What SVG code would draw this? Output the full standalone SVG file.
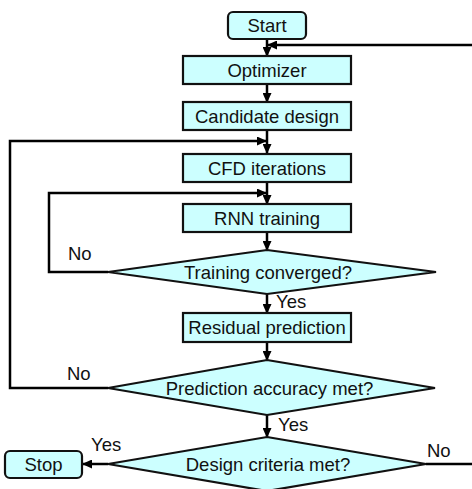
<svg xmlns="http://www.w3.org/2000/svg" width="472" height="489" viewBox="0 0 472 489">
<style>
.box{fill:#ccffff;stroke:#111;stroke-width:2.2}
.t{font-family:"Liberation Sans",Arial,sans-serif;font-size:18.5px;fill:#111;text-anchor:middle}
.lbl{font-family:"Liberation Sans",Arial,sans-serif;font-size:18.5px;fill:#111}
.c{fill:none;stroke:#000;stroke-width:2.5}
.ca{fill:none;stroke:#000;stroke-width:2.5;marker-end:url(#ah)}
</style>
<defs>
<marker id="ah" markerUnits="userSpaceOnUse" markerWidth="10" markerHeight="9" refX="9" refY="4.5" orient="auto">
<path d="M0,0 L10,4.5 L0,9 z" fill="#000"/>
</marker>
</defs>
<rect width="472" height="489" fill="#fff"/>
<g id="connectors">
<line class="ca" x1="267" y1="39" x2="267" y2="56"/>
<path class="ca" d="M475,45 L268,45"/>
<line class="ca" x1="267" y1="84" x2="267" y2="102"/>
<line class="ca" x1="267" y1="130" x2="267" y2="153"/>
<path class="ca" d="M108,388 L10,388 L10,141 L266,141"/>
<line class="ca" x1="267" y1="182" x2="267" y2="204"/>
<path class="ca" d="M108,272 L49,272 L49,193 L266,193"/>
<line class="ca" x1="267" y1="232" x2="267" y2="250"/>
<line class="ca" x1="267" y1="294" x2="267" y2="313"/>
<line class="ca" x1="267" y1="342" x2="267" y2="360"/>
<line class="ca" x1="267" y1="415" x2="267" y2="437"/>
<line class="ca" x1="108" y1="464" x2="83" y2="464"/>
<path class="c" d="M426,464 L475,464 L475,45"/>
<text class="lbl" x="68" y="260">No</text>
<text class="lbl" x="276" y="308">Yes</text>
<text class="lbl" x="67" y="380">No</text>
<text class="lbl" x="278" y="431">Yes</text>
<text class="lbl" x="91" y="451">Yes</text>
<text class="lbl" x="427" y="457">No</text>
</g>
<g id="start">
<rect class="box" x="228" y="12" width="78" height="27" rx="5"/>
<text class="t" x="267" y="32">Start</text>
</g>
<g id="optimizer">
<rect class="box" x="183" y="56" width="168" height="28"/>
<text class="t" x="267" y="76.5">Optimizer</text>
</g>
<g id="candidate">
<rect class="box" x="183" y="102" width="168" height="28"/>
<text class="t" x="267" y="122.5">Candidate design</text>
</g>
<g id="cfd">
<rect class="box" x="183" y="154" width="168" height="28"/>
<text class="t" x="267" y="174.5">CFD iterations</text>
</g>
<g id="rnn">
<rect class="box" x="183" y="204" width="168" height="28"/>
<text class="t" x="267" y="224.5">RNN training</text>
</g>
<g id="training-converged">
<polygon class="box" points="267,250 436,272 267,294 108,272"/>
<text class="t" x="268" y="278.5">Training converged?</text>
</g>
<g id="residual">
<rect class="box" x="183" y="313" width="168" height="29"/>
<text class="t" x="267" y="334">Residual prediction</text>
</g>
<g id="prediction-accuracy">
<polygon class="box" points="267,360 435,388 267,415 108,388"/>
<text class="t" x="269.5" y="394.5">Prediction accuracy met?</text>
</g>
<g id="design-criteria">
<polygon class="box" points="267,437 426,464 267,491 108,464"/>
<text class="t" x="268" y="470.5">Design criteria met?</text>
</g>
<g id="stop">
<rect class="box" x="5" y="451" width="77" height="27" rx="5"/>
<text class="t" x="43.5" y="471">Stop</text>
</g>
</svg>
